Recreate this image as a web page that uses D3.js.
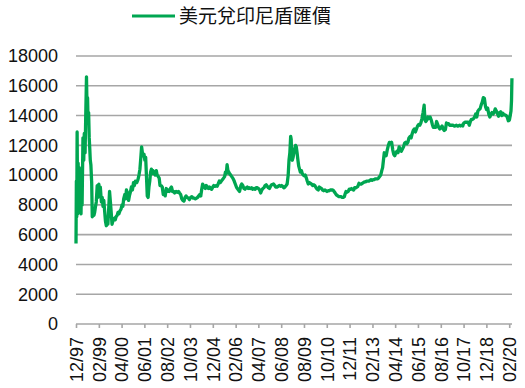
<!DOCTYPE html>
<html>
<head>
<meta charset="utf-8">
<script src="https://cdn.jsdelivr.net/npm/d3@7"></script>
<style>
  body { margin: 0; background: #fff; }
  svg { display: block; }
</style>
</head>
<body>
<svg id="chart" width="525" height="388"></svg>
<script>
const seriesName = '美元兌印尼盾匯價';
const tickLabels = ['12/97', '02/99', '04/00', '06/01', '08/02', '10/03', '12/04', '02/06', '04/07', '06/08',
    '08/09', '10/10', '12/11', '02/13', '04/14', '06/15', '08/16', '10/17', '12/18', '02/20'];
const yTicks = [0, 2000, 4000, 6000, 8000, 10000, 12000, 14000, 16000, 18000];

// 取樣日期與匯價
const dates = [
    '1997-12-01', '1997-12-08', '1997-12-15', '1997-12-22',
    '1998-01-01', '1998-01-10', '1998-01-20', '1998-02-01', '1998-02-10', '1998-02-20', '1998-03-05', '1998-03-15',
    '1998-03-25', '1998-04-10', '1998-04-25', '1998-05-05', '1998-05-20', '1998-06-01', '1998-06-15', '1998-06-25',
    '1998-07-05', '1998-07-15', '1998-07-25', '1998-08-05', '1998-08-15', '1998-08-25', '1998-09-05', '1998-09-20',
    '1998-10-01', '1998-10-15', '1998-11-01', '1998-11-15', '1998-12-01', '1998-12-15',
    '1999-01-01', '1999-01-15', '1999-02-01', '1999-02-15', '1999-03-01', '1999-03-20', '1999-04-05', '1999-04-20',
    '1999-05-05', '1999-05-20', '1999-06-05', '1999-06-20', '1999-07-05', '1999-07-20', '1999-08-05', '1999-08-20',
    '1999-09-05', '1999-09-20', '1999-10-05', '1999-10-20', '1999-11-05', '1999-11-20', '1999-12-05', '1999-12-20',
    '2000-01-10', '2000-01-25', '2000-02-10', '2000-03-01', '2000-03-20', '2000-04-10', '2000-04-25', '2000-05-10',
    '2000-06-01', '2000-06-15', '2000-07-01', '2000-07-20', '2000-08-10', '2000-08-25', '2000-09-15', '2000-10-01',
    '2000-10-20', '2000-11-10', '2000-11-25', '2000-12-15',
    '2001-01-10', '2001-02-01', '2001-02-20', '2001-03-10', '2001-03-25', '2001-04-10', '2001-04-25', '2001-05-10',
    '2001-05-25', '2001-06-10', '2001-06-25', '2001-07-15', '2001-07-25', '2001-08-10', '2001-08-25', '2001-09-10',
    '2001-09-25', '2001-10-10', '2001-10-25', '2001-11-10', '2001-12-01', '2001-12-20',
    '2002-01-10', '2002-01-25', '2002-02-15', '2002-03-05', '2002-03-20', '2002-04-10', '2002-05-01', '2002-05-20',
    '2002-06-10', '2002-06-25', '2002-07-15', '2002-08-01', '2002-08-20', '2002-09-10', '2002-10-01', '2002-10-20',
    '2002-11-10', '2002-12-01', '2002-12-20',
    '2003-01-15', '2003-02-10', '2003-03-01', '2003-03-20', '2003-04-10', '2003-05-01', '2003-05-20', '2003-06-10',
    '2003-07-01', '2003-07-20', '2003-08-10', '2003-09-01', '2003-09-20', '2003-10-15', '2003-11-05', '2003-12-01',
    '2003-12-20',
    '2004-01-10', '2004-02-01', '2004-02-20', '2004-03-10', '2004-04-01', '2004-04-20', '2004-05-10', '2004-05-25',
    '2004-06-10', '2004-06-25', '2004-07-15', '2004-08-01', '2004-08-20', '2004-09-10', '2004-10-01', '2004-10-20',
    '2004-11-10', '2004-12-01', '2004-12-20',
    '2005-01-10', '2005-02-01', '2005-02-20', '2005-03-10', '2005-04-01', '2005-04-20', '2005-05-10', '2005-06-01',
    '2005-06-20', '2005-07-10', '2005-07-25', '2005-08-10', '2005-08-25', '2005-09-10', '2005-09-25', '2005-10-10',
    '2005-11-01', '2005-11-20', '2005-12-10',
    '2006-01-05', '2006-01-25', '2006-02-15', '2006-03-05', '2006-03-25', '2006-04-15', '2006-05-10', '2006-05-25',
    '2006-06-15', '2006-07-05', '2006-07-25', '2006-08-15', '2006-09-05', '2006-09-25', '2006-10-15', '2006-11-05',
    '2006-11-25', '2006-12-15',
    '2007-01-10', '2007-02-01', '2007-02-20', '2007-03-15', '2007-04-05', '2007-04-25', '2007-05-15', '2007-06-05',
    '2007-06-25', '2007-07-15', '2007-08-05', '2007-08-25', '2007-09-15', '2007-10-05', '2007-10-25', '2007-11-15',
    '2007-12-05',
    '2008-01-10', '2008-02-01', '2008-02-20', '2008-03-15', '2008-04-05', '2008-05-01', '2008-05-20', '2008-06-10',
    '2008-07-01', '2008-07-20', '2008-08-10', '2008-09-01', '2008-09-20', '2008-10-10', '2008-10-25', '2008-11-10',
    '2008-11-25', '2008-12-05', '2008-12-15', '2008-12-25',
    '2009-01-10', '2009-01-25', '2009-02-10', '2009-02-25', '2009-03-10', '2009-03-25', '2009-04-10', '2009-04-25',
    '2009-05-10', '2009-05-25', '2009-06-15', '2009-07-01', '2009-07-20', '2009-08-10', '2009-08-25', '2009-09-15',
    '2009-10-01', '2009-10-20', '2009-11-10', '2009-12-01', '2009-12-20',
    '2010-01-10', '2010-02-01', '2010-02-20', '2010-03-15', '2010-04-05', '2010-04-25', '2010-05-15', '2010-06-05',
    '2010-06-25', '2010-07-15', '2010-08-05', '2010-08-25', '2010-09-15', '2010-10-05', '2010-10-25', '2010-11-15',
    '2010-12-05', '2010-12-25',
    '2011-01-15', '2011-02-05', '2011-02-25', '2011-03-15', '2011-04-05', '2011-04-25', '2011-05-15', '2011-06-05',
    '2011-06-25', '2011-07-15', '2011-08-05', '2011-08-25', '2011-09-10', '2011-09-25', '2011-10-15', '2011-11-05',
    '2011-11-25', '2011-12-15',
    '2012-01-05', '2012-01-25', '2012-02-15', '2012-03-05', '2012-03-25', '2012-04-15', '2012-05-05', '2012-05-25',
    '2012-06-15', '2012-07-05', '2012-07-25', '2012-08-15', '2012-09-05', '2012-09-25', '2012-10-15', '2012-11-05',
    '2012-11-25', '2012-12-15',
    '2013-01-05', '2013-01-25', '2013-02-15', '2013-03-05', '2013-03-25', '2013-04-15', '2013-05-05', '2013-05-25',
    '2013-06-15', '2013-07-05', '2013-07-25', '2013-08-10', '2013-08-25', '2013-09-10', '2013-09-25', '2013-10-15',
    '2013-11-05', '2013-11-25', '2013-12-15',
    '2014-01-05', '2014-01-25', '2014-02-15', '2014-03-05', '2014-03-25', '2014-04-15', '2014-05-05', '2014-05-25',
    '2014-06-15', '2014-07-05', '2014-07-25', '2014-08-15', '2014-09-05', '2014-09-25', '2014-10-15', '2014-11-05',
    '2014-11-25', '2014-12-15',
    '2015-01-05', '2015-01-25', '2015-02-15', '2015-03-05', '2015-03-25', '2015-04-15', '2015-05-05', '2015-05-25',
    '2015-06-15', '2015-07-05', '2015-07-25', '2015-08-15', '2015-09-05', '2015-09-25', '2015-10-10', '2015-10-25',
    '2015-11-15', '2015-12-05', '2015-12-25',
    '2016-01-15', '2016-02-05', '2016-02-25', '2016-03-15', '2016-04-05', '2016-04-25', '2016-05-15', '2016-06-05',
    '2016-06-25', '2016-07-15', '2016-08-05', '2016-08-25', '2016-09-15', '2016-10-05', '2016-10-25', '2016-11-15',
    '2016-12-05', '2016-12-25',
    '2017-01-15', '2017-02-05', '2017-02-25', '2017-03-15', '2017-04-05', '2017-04-25', '2017-05-15', '2017-06-05',
    '2017-06-25', '2017-07-15', '2017-08-05', '2017-08-25', '2017-09-15', '2017-10-05', '2017-10-25', '2017-11-15',
    '2017-12-05', '2017-12-25',
    '2018-01-15', '2018-02-05', '2018-02-25', '2018-03-15', '2018-04-05', '2018-04-25', '2018-05-15', '2018-06-05',
    '2018-06-25', '2018-07-15', '2018-08-05', '2018-08-25', '2018-09-15', '2018-10-05', '2018-10-25', '2018-11-15',
    '2018-12-05', '2018-12-25',
    '2019-01-15', '2019-02-05', '2019-02-25', '2019-03-15', '2019-04-05', '2019-04-25', '2019-05-15', '2019-06-05',
    '2019-06-25', '2019-07-15', '2019-08-05', '2019-08-25', '2019-09-15', '2019-10-05', '2019-10-25', '2019-11-15',
    '2019-12-05', '2019-12-25',
    '2020-01-15', '2020-02-05', '2020-02-20', '2020-03-05', '2020-03-15', '2020-03-23'
];

const usdIdr = [
    5400, 9600, 7200, 12900,
    7400, 10800, 7600, 10500, 7500, 8300, 7400, 9700,
    8000, 12500, 11000, 12800, 11500, 14000, 16600, 14500,
    15200, 13600, 14200, 12500, 11800, 11000, 10700, 9500,
    7200, 7800, 7300, 7500, 7900, 8200,
    9300, 8500, 9400, 8900, 9200, 8200, 8500, 7900,
    8300, 7600, 6900, 6600, 7000, 6700, 7800, 8900,
    8200, 7500, 6700, 6900, 7000, 7100, 7000, 7200,
    7300, 7500, 7400, 7600, 7700, 8000, 7900, 8400,
    8700, 8400, 9000, 8800, 8300, 8600, 8900, 9200,
    9000, 9500, 9300, 9600,
    9500, 9700, 10000, 10400, 11100, 11900, 11500, 11300,
    11400, 11000, 11200, 9500, 8600, 8500, 9200, 9600,
    10200, 10400, 10100, 10300, 10200, 10000,
    10300, 10000, 9900, 9800, 9300, 9300, 9200, 8700,
    8900, 8600, 9100, 8900, 9000, 8900, 9100, 9200,
    8900, 8900, 8800,
    8900, 8850, 8900, 8800, 8700, 8400, 8300, 8250,
    8500, 8600, 8500, 8450, 8350, 8500, 8550, 8450,
    8450,
    8400, 8450, 8500, 8600, 8700, 8600, 9100, 9400,
    9300, 9200, 9100, 9300, 9200, 9100, 9200, 9100,
    9050, 9200, 9300,
    9250, 9300, 9250, 9400, 9600, 9500, 9600, 9700,
    9800, 9900, 10200, 10100, 10700, 10300, 10200, 10100,
    10000, 9900, 9800,
    9600, 9400, 9200, 9100, 9000, 8900, 9300, 9400,
    9300, 9100, 9050, 9150, 9200, 9100, 9150, 9100,
    9150, 9050,
    9100, 9050, 9150, 9150, 9100, 9000, 8800, 9000,
    9100, 9150, 9300, 9350, 9250, 9150, 9100, 9250,
    9350,
    9400, 9300, 9200, 9200, 9250, 9300, 9250, 9300,
    9250, 9150, 9200, 9300, 9400, 10000, 11000, 11500,
    12600, 12400, 11200, 11000,
    11200, 11500, 11800, 12000, 11900, 11500, 11000, 10600,
    10400, 10200, 10300, 10100, 10000, 9950, 10000, 9800,
    9600, 9400, 9500, 9450, 9400,
    9300, 9350, 9300, 9150, 9050, 9000, 9200, 9150,
    9100, 9000, 8950, 9000, 8950, 8900, 8950, 8950,
    9000, 9000,
    9000, 8950, 8850, 8750, 8650, 8600, 8550, 8550,
    8550, 8500, 8500, 8550, 8750, 8900, 8850, 8900,
    9050, 9050,
    9100, 9050, 9000, 9150, 9150, 9200, 9250, 9450,
    9400, 9400, 9450, 9500, 9550, 9550, 9600, 9600,
    9600, 9650,
    9700, 9650, 9700, 9700, 9750, 9750, 9750, 9800,
    9900, 10000, 10300, 10500, 11000, 11500, 11400, 11300,
    11700, 12000, 12200,
    12100, 12200, 11700, 11400, 11300, 11500, 11600, 11500,
    11900, 11700, 11600, 11750, 11900, 12150, 12200, 12100,
    12200, 12500,
    12600, 12500, 12800, 13000, 13100, 12900, 13100, 13300,
    13400, 13350, 13500, 13800, 14200, 14700, 13700, 13600,
    13700, 13900, 13800,
    13900, 13700, 13400, 13200, 13200, 13200, 13600, 13400,
    13200, 13100, 13200, 13300, 13100, 13000, 13050, 13500,
    13450, 13450,
    13350, 13350, 13350, 13350, 13300, 13300, 13350, 13300,
    13300, 13350, 13300, 13350, 13300, 13500, 13550, 13550,
    13550, 13550,
    13350, 13600, 13750, 13750, 13800, 13900, 14100, 13900,
    14300, 14400, 14450, 14700, 14900, 15200, 15150, 14600,
    14400, 14500,
    14100, 13900, 14100, 14200, 14100, 14200, 14450, 14300,
    14150, 13950, 14200, 14250, 14000, 14150, 14050, 14050,
    14000, 13900,
    13650, 13700, 14000, 14300, 15000, 16500
];

const parseDay = d3.timeParse('%Y-%m-%d');
const parseTick = d3.timeParse('%m/%y');
const data = dates.map((d, i) => ({ date: parseDay(d), value: usdIdr[i] }))
    .filter(d => d.value !== undefined);

const plotLeft = 76, plotRight = 512, plotTop = 56, plotBottom = 324;
const gridColor = '#a6a6a6';
const lineColor = '#00a651';

const svg = d3.select('#chart');

const x = d3.scaleTime()
    .domain([parseDay('1997-12-01'), parseDay('2020-03-24')])
    .range([plotLeft, plotRight]);
const y = d3.scaleLinear()
    .domain([0, 18000])
    .range([plotBottom, plotTop]);

// 橫向格線
svg.append('g')
    .selectAll('line')
    .data(yTicks)
    .enter()
    .append('line')
    .attr('x1', plotLeft)
    .attr('x2', plotRight)
    .attr('y1', d => y(d))
    .attr('y2', d => y(d))
    .attr('stroke', gridColor)
    .attr('stroke-width', 1.6);

// y 軸刻度文字
svg.append('g')
    .selectAll('text')
    .data(yTicks)
    .enter()
    .append('text')
    .attr('x', 58)
    .attr('y', d => y(d))
    .attr('dy', '0.35em')
    .attr('text-anchor', 'end')
    .attr('font-family', 'Liberation Sans, Arial, sans-serif')
    .attr('font-size', 18)
    .attr('fill', '#111')
    .text(d => d);

// x 軸
const xAxis = d3.axisBottom(x)
    .tickValues(tickLabels.map(t => parseTick(t)))
    .tickSize(4)
    .tickFormat(d3.timeFormat('%m/%y'));

const gx = svg.append('g')
    .attr('transform', `translate(0,${plotBottom})`)
    .call(xAxis);
gx.select('.domain').remove();
gx.selectAll('.tick line')
    .attr('stroke', gridColor)
    .attr('stroke-width', 1.6);
gx.selectAll('.tick text')
    .attr('font-family', 'Liberation Sans, Arial, sans-serif')
    .attr('font-size', 18)
    .attr('fill', '#111')
    .attr('text-anchor', 'end')
    .attr('transform', 'translate(0,13) rotate(-90)')
    .attr('x', 0)
    .attr('y', 0)
    .attr('dy', '0.35em');

// 匯價折線
const line = d3.line()
    .x(d => x(d.date))
    .y(d => y(d.value));

svg.append('path')
    .datum(data)
    .attr('d', line)
    .attr('fill', 'none')
    .attr('stroke', lineColor)
    .attr('stroke-width', 3.3)
    .attr('stroke-linejoin', 'round');

// 圖例
const legend = svg.append('g');
legend.append('line')
    .attr('x1', 132)
    .attr('x2', 175)
    .attr('y1', 16)
    .attr('y2', 16)
    .attr('stroke', lineColor)
    .attr('stroke-width', 3);
legend.append('text')
    .attr('x', 179)
    .attr('y', 16)
    .attr('dy', '0.35em')
    .attr('font-family', 'Noto Sans CJK TC, sans-serif')
    .attr('font-size', 19)
    .attr('fill', '#111')
    .text(seriesName);
</script>
</body>
</html>
